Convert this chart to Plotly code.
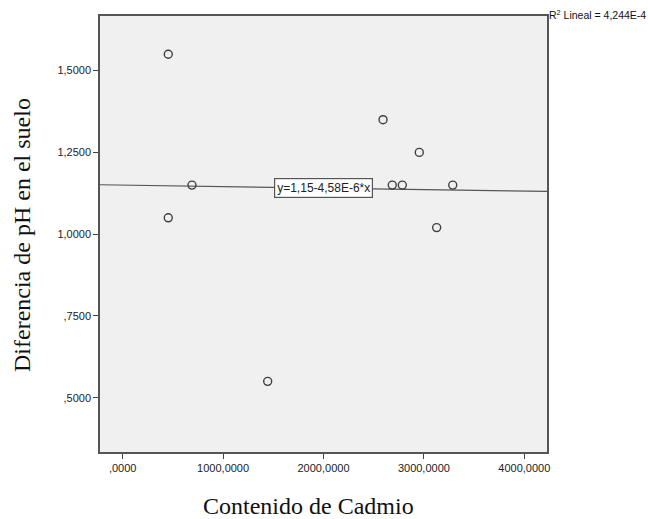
import plotly.graph_objects as go

# Cadmium content vs. soil pH difference
cadmio = [454000, 454000, 690000, 1444000, 2593000, 2685000, 2785000, 2954000, 3127000, 3287000]
ph_dif = [1.55, 1.05, 1.15, 0.55, 1.35, 1.15, 1.15, 1.25, 1.02, 1.15]

x_ticks = [0, 1000000, 2000000, 3000000, 4000000]
x_labels = [",0000", "1000,0000", "2000,0000", "3000,0000", "4000,0000"]
y_ticks = [0.5, 0.75, 1.0, 1.25, 1.5]
y_labels = [",5000", ",7500", "1,0000", "1,2500", "1,5000"]

x_range = [-226000, 4226000]
y_range = [0.334, 1.667]

# Linear fit: y = 1,15 - 4,58E-6 * x  (x in thousands)
intercept = 1.15
slope = -4.58e-6
fit_x = x_range
fit_y = [intercept + slope * (v / 1000) for v in fit_x]

fig = go.Figure()
fig.add_trace(go.Scatter(
    x=fit_x, y=fit_y, mode="lines",
    line=dict(color="#555555", width=1.2),
    hoverinfo="skip", showlegend=False,
))
fig.add_trace(go.Scatter(
    x=cadmio, y=ph_dif, mode="markers",
    marker=dict(symbol="circle-open", size=8, color="#404040",
                line=dict(color="#404040", width=1.4)),
    showlegend=False,
))

lbl_x = 2000000
fig.add_annotation(
    x=lbl_x, y=intercept + slope * (lbl_x / 1000),
    xref="x", yref="y",
    text="y=1,15-4,58E-6*x", showarrow=False,
    font=dict(family="Liberation Sans, Arial", size=12, color="#222222"),
    bgcolor="white", bordercolor="#555555", borderwidth=1.2, borderpad=2,
)
fig.add_annotation(
    x=1.0, y=1.0, xref="paper", yref="paper",
    xanchor="left", yanchor="top", xshift=0, yshift=10,
    text="R<sup>2</sup> Lineal = 4,244E-4", showarrow=False,
    font=dict(family="Liberation Sans, Arial", size=10.5, color="#111111"),
)

# Axis titles placed in pixel space
title_font = dict(family="Liberation Serif, Times New Roman", size=24, color="#111111")
fig.add_annotation(
    x=0, y=0, xref="paper", yref="paper", xanchor="center", yanchor="middle",
    xshift=308 - 100, yshift=-(506 - 452),
    text="Contenido de Cadmio", showarrow=False, font=title_font,
)
fig.add_annotation(
    x=0, y=0, xref="paper", yref="paper", xanchor="center", yanchor="middle",
    xshift=22 - 100, yshift=452 - 235,
    text="Diferencia de pH en el suelo", textangle=-90, showarrow=False, font=title_font,
)

axis_common = dict(
    showgrid=False, zeroline=False, showline=True, mirror=True,
    linecolor="#555555", linewidth=1.5,
    ticks="outside", ticklen=5, tickcolor="#444444", tickwidth=1.2,
    tickfont=dict(family="Liberation Sans, Arial", size=11, color="#222222"),
    automargin=False,
)

fig.update_layout(
    width=648, height=519,
    margin=dict(l=100, r=101, t=16, b=67),
    paper_bgcolor="white", plot_bgcolor="#F0F0F0",
    xaxis=dict(range=x_range, tickvals=x_ticks, ticktext=x_labels, **axis_common),
    yaxis=dict(range=y_range, tickvals=y_ticks, ticktext=y_labels, **axis_common),
)

fig.write_html("out.html")
